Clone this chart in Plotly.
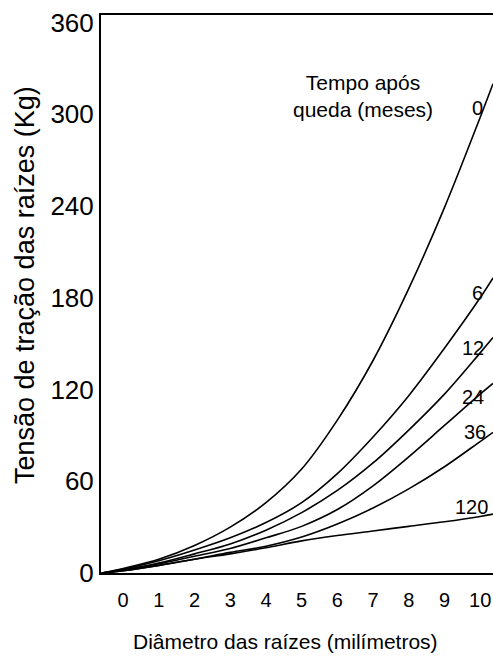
import plotly.graph_objects as go

# Diameter of roots (mm)
diametro = [-0.6, 0, 1, 2, 3, 4, 5, 6, 7, 8, 9, 10, 10.36]
# Root tensile strength (kg) by time after felling (months)
t0 = [0, 3, 9, 18, 30, 46, 68, 100, 139, 186, 239, 298, 320]
t6 = [0, 2.5, 8, 15, 23, 33, 46, 65, 89, 116, 147, 180, 193]
t12 = [0, 2, 6.5, 12.5, 19, 28, 39.5, 54, 72, 93.5, 117, 144, 154]
t24 = [0, 2, 6, 11, 16, 23, 30.5, 41.5, 57, 76, 96.5, 117, 124]
t36 = [0, 1.5, 5, 9, 13.5, 17.5, 23.5, 32, 42.5, 55, 69.5, 86, 92]
t120 = [0, 1.5, 5, 9, 12.5, 16.5, 21, 24.5, 27.5, 30.5, 33.5, 37, 38.5]

series = {"0": t0, "6": t6, "12": t12, "24": t24, "36": t36, "120": t120}
x_ticks = [0, 1, 2, 3, 4, 5, 6, 7, 8, 9, 10]
y_ticks = [0, 60, 120, 180, 240, 300, 360]

FONT = "Arial, Liberation Sans, sans-serif"

fig = go.Figure()
for name, vals in series.items():
    fig.add_trace(go.Scatter(x=diametro, y=vals, mode="lines", name=name,
                             line=dict(color="black", width=1.6, shape="spline"),
                             showlegend=False))

# curve labels (x, y placement in data units)
label_pos = {"0": (10.13, 304), "6": (10.13, 183), "12": (10.15, 147),
             "24": (10.17, 115), "36": (10.22, 92), "120": (10.28, 43)}
for name, (lx, ly) in label_pos.items():
    fig.add_annotation(x=lx, y=ly, xref="x", yref="y", text=name, showarrow=False,
                       xanchor="right", yanchor="middle",
                       font=dict(family=FONT, size=20, color="black"))

fig.add_annotation(x=6.72, y=312, xref="x", yref="y",
                   text="Tempo após<br>queda (meses)", showarrow=False,
                   xanchor="center", yanchor="middle",
                   font=dict(family=FONT, size=21, color="black"))

# axis titles
fig.add_annotation(x=-0.194, y=0.516, xref="paper", yref="paper",
                   text="Tensão de tração das raízes (Kg)", showarrow=False,
                   textangle=-90, xanchor="center", yanchor="middle",
                   font=dict(family=FONT, size=27, color="black"))
fig.add_annotation(x=0.47, y=-0.122, xref="paper", yref="paper",
                   text="Diâmetro das raízes (milímetros)", showarrow=False,
                   xanchor="center", yanchor="middle",
                   font=dict(family=FONT, size=21, color="black"))

fig.update_layout(
    width=493, height=656,
    margin=dict(l=101, r=0, t=15, b=83),
    paper_bgcolor="white", plot_bgcolor="white",
    font=dict(family=FONT, color="black"),
    xaxis=dict(range=[-0.62, 10.36], tickvals=x_ticks, showgrid=False, zeroline=False,
               showline=True, linecolor="black", linewidth=2, mirror=True,
               ticks="outside", ticklen=8, tickcolor="rgba(0,0,0,0)",
               tickfont=dict(family=FONT, size=20)),
    yaxis=dict(range=[0, 365], tickvals=y_ticks, showgrid=False, zeroline=False,
               showline=True, linecolor="black", linewidth=2,
               ticks="",
               tickfont=dict(family=FONT, size=26)),
)

fig.write_html("out.html", config={"displayModeBar": False},
               post_script="document.body.style.margin='0';")
